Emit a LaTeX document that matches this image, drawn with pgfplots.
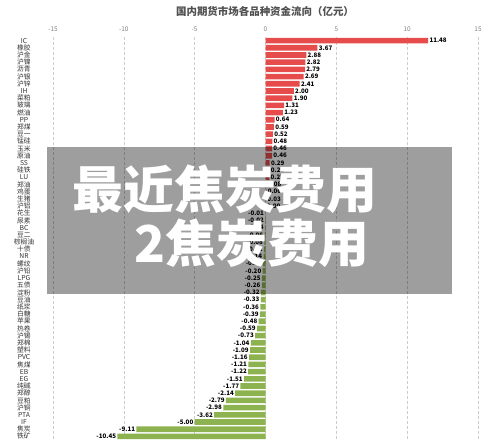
\documentclass[border=0pt]{standalone}
\usepackage{fontspec}
\setmainfont{Noto Sans CJK SC}
\usepackage{pgfplots}
\pgfplotsset{compat=1.18}
\definecolor{posred}{RGB}{231,76,76}
\definecolor{neggreen}{RGB}{141,179,80}
\definecolor{titlegray}{RGB}{80,80,80}
\definecolor{tickgray}{RGB}{128,128,128}
\begin{document}
\begin{tikzpicture}[x=1bp,y=1bp]
\useasboundingbox (-53,-3) rectangle (447,440);
\begin{axis}[
  at={(0,0)}, anchor=south west,
  scale only axis, width=425bp, height=403bp,
  xmin=-15, xmax=15, ymin=0.5, ymax=56.5,
  y dir=reverse,
  xbar, bar width=0.78, bar shift=0pt,
  xtick={-15,-10,...,15},
  xticklabel pos=upper,
  /pgf/number format/assume math mode=true,
  xticklabel style={font=\fontsize{6.5}{7}\selectfont, text=tickgray, yshift=1.5bp},
  ytick={1,...,56},
  yticklabels={IC,橡胶,沪金,沪镍,沥青,沪银,沪锌,IH,菜粕,玻璃,燃油,PP,郑煤,豆一,锰硅,玉米,原油,SS,硅铁,LU,郑油,鸡蛋,生猪,沪铝,花生,尿素,BC,豆二,棕榈油,十债,NR,螺纹,沪铅,LPG,五债,淀粉,豆油,纸浆,白糖,苹果,热卷,沪锡,郑棉,塑料,PVC,焦煤,EB,EG,纯碱,郑醇,豆粕,沪铜,PTA,IF,焦炭,铁矿},
  yticklabel style={font=\fontsize{6.8}{7}\selectfont, text=black!80, anchor=center, xshift=-29bp, inner sep=0pt},
  axis line style={draw=none},
  major tick length=0pt,
  xmajorgrids, major grid style={densely dashed, gray!40, line width=0.4pt},
  point meta=x,
  nodes near coords={\pgfmathprintnumber[fixed,precision=2,fixed zerofill]{\pgfplotspointmeta}},
  every node near coord/.append style={font=\bfseries\fontsize{6.2}{6.3}\selectfont, text=black, inner xsep=1.2bp, inner ysep=0pt},
]
\addplot[fill=posred, draw=none, nodes near coords align={right}] coordinates {
(11.48,1) (3.67,2) (2.88,3) (2.82,4) (2.79,5) (2.69,6) (2.41,7) (2.00,8) (1.90,9) (1.31,10)
(1.23,11) (0.64,12) (0.59,13) (0.52,14) (0.48,15) (0.46,16) (0.46,17) (0.29,18) (0.28,19) (0.27,20)
(0.08,21) (0.06,22) (0.03,23) (0.00,24)
};
\addplot[fill=neggreen, draw=none, nodes near coords align={left}] coordinates {
(-0.01,25) (-0.02,26) (-0.04,27) (-0.06,28) (-0.08,29) (-0.11,30) (-0.14,31) (-0.17,32)
(-0.20,33) (-0.25,34) (-0.26,35) (-0.32,36) (-0.33,37) (-0.36,38) (-0.39,39) (-0.48,40)
(-0.59,41) (-0.73,42) (-1.04,43) (-1.09,44) (-1.16,45) (-1.21,46) (-1.22,47) (-1.51,48)
(-1.77,49) (-2.14,50) (-2.79,51) (-2.98,52) (-3.62,53) (-5.00,54) (-9.11,55) (-10.45,56)
};
\end{axis}
\node[text=titlegray, font=\bfseries\fontsize{10.5}{11}\selectfont] at (212,428) {国内期货市场各品种资金流向（亿元）};
\fill[black, opacity=0.38] (-6,146) rectangle (399,293);
\node[text=white, font=\bfseries\fontsize{51}{51}\selectfont, inner sep=0pt] at (172,251) {最近焦炭费用};
\node[text=white, font=\bfseries\fontsize{51}{51}\selectfont, inner sep=0pt] at (199,197) {2焦炭费用};
\end{tikzpicture}
\end{document}
